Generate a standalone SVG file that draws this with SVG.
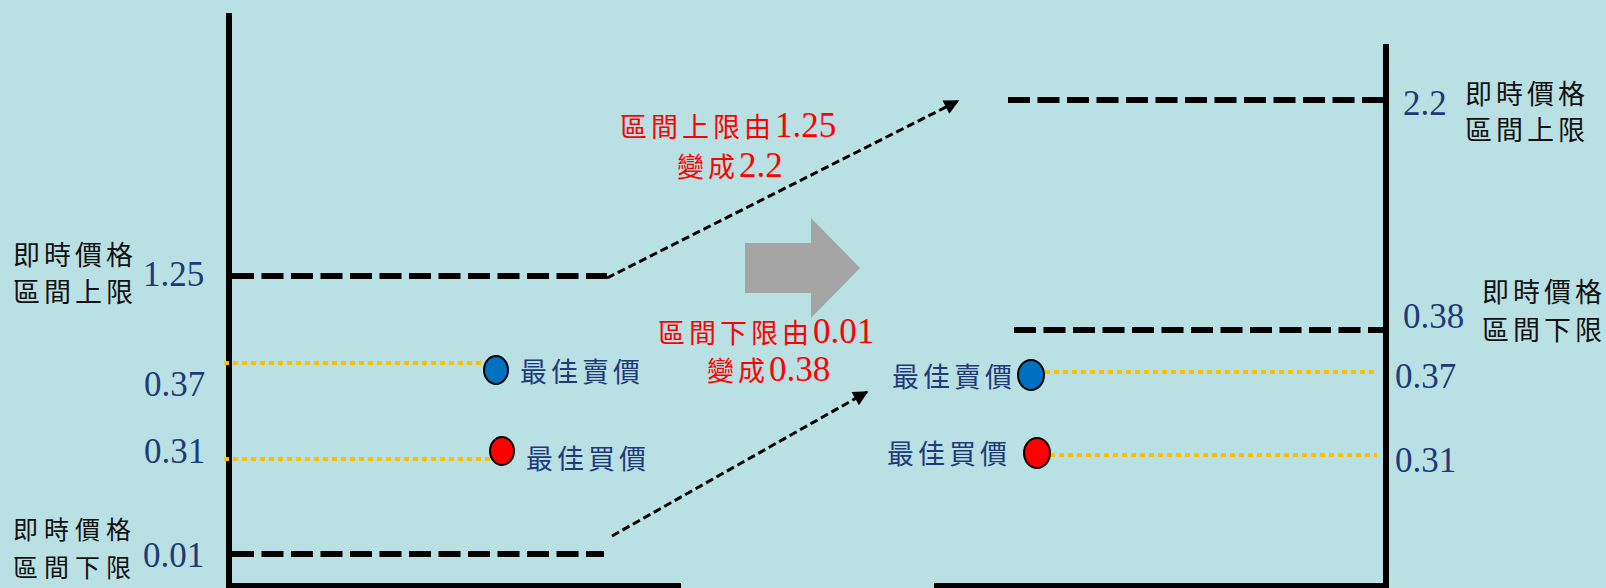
<svg xmlns="http://www.w3.org/2000/svg" width="1606" height="588" viewBox="0 0 1606 588">
<defs>
<style>
.cjk{font-family:"Noto Sans CJK TC","Noto Sans CJK SC",sans-serif;font-size:27px;letter-spacing:4px;fill:#111}
.sm{font-size:25px;letter-spacing:6px}
.num{font-family:"Liberation Serif",serif;font-size:35px;fill:#1F3A78}
.lbl{font-family:"Noto Sans CJK TC","Noto Sans CJK SC",sans-serif;font-size:27px;letter-spacing:4px;fill:#1F3A78}
.red{fill:#FF0000}
.redc{font-family:"Noto Sans CJK TC","Noto Sans CJK SC",sans-serif;font-size:27px;letter-spacing:4px}
.redn{font-family:"Liberation Serif",serif;font-size:35px}
.axis{stroke:#000;stroke-width:6;fill:none}
.dash{stroke:#000;stroke-width:6;stroke-dasharray:22 7.5;fill:none}
.dot{stroke:#FFC000;stroke-width:4;stroke-dasharray:5 4;fill:none}
.arr{stroke:#000;stroke-width:3;stroke-dasharray:8 4;fill:none;marker-end:url(#tri)}
.bub{stroke:#000;stroke-width:2}
</style>
<marker id="tri" viewBox="0 0 10 10" refX="9" refY="5" markerWidth="18" markerHeight="15" markerUnits="userSpaceOnUse" orient="auto">
<path d="M0,0 L10,5 L0,10 Z" fill="#000"/>
</marker>
</defs>
<rect width="1606" height="588" fill="#B9E0E3"/>

<g id="axes">
<line class="axis" x1="229" y1="13" x2="229" y2="588"/>
<line class="axis" x1="226" y1="586" x2="681" y2="586"/>
<line class="axis" x1="1386" y1="44" x2="1386" y2="588"/>
<line class="axis" x1="934" y1="586" x2="1389" y2="586"/>
</g>

<g id="levels">
<line class="dash" x1="232" y1="276" x2="607" y2="276"/>
<line class="dash" x1="232" y1="554" x2="604" y2="554"/>
<line class="dash" x1="1008" y1="100" x2="1383" y2="100"/>
<line class="dash" x1="1014" y1="330" x2="1383" y2="330"/>
<line class="dot" x1="224" y1="363" x2="482" y2="363"/>
<line class="dot" x1="224" y1="459" x2="490" y2="459"/>
<line class="dot" x1="1045" y1="372" x2="1377" y2="372"/>
<line class="dot" x1="1050" y1="455" x2="1377" y2="455"/>
</g>

<g id="connectors">
<line class="arr" x1="607" y1="278" x2="958" y2="101"/>
<line class="arr" x1="612" y1="536" x2="867" y2="392"/>
</g>

<g id="big-arrow">
<polygon points="745,243 811,243 811,218 860,268 811,318 811,293 745,293" fill="#A5A5A5"/>
</g>

<g id="left-labels">
<text class="cjk" x="13" y="265">即時價格</text>
<text class="cjk" x="13" y="302">區間上限</text>
<text class="num" x="143" y="286">1.25</text>
<text class="cjk sm" x="13" y="539">即時價格</text>
<text class="cjk sm" x="13" y="577">區間下限</text>
<text class="num" x="143" y="567">0.01</text>
<text class="num" x="144" y="396">0.37</text>
<text class="num" x="144" y="463">0.31</text>
</g>

<g id="left-bid-ask">
<ellipse class="bub" cx="496" cy="370" rx="12" ry="14" fill="#0070C0"/>
<text class="lbl" x="520" y="382">最佳賣價</text>
<ellipse class="bub" cx="502" cy="451" rx="12" ry="14" fill="#FF0000"/>
<text class="lbl" x="526" y="469">最佳買價</text>
</g>

<g id="upper-change">
<text class="red" x="620" y="137"><tspan class="redc">區間上限由</tspan><tspan class="redn">1.25</tspan></text>
<text class="red" x="677" y="177"><tspan class="redc">變成</tspan><tspan class="redn">2.2</tspan></text>
</g>

<g id="lower-change">
<text class="red" x="658" y="343"><tspan class="redc">區間下限由</tspan><tspan class="redn">0.01</tspan></text>
<text class="red" x="707" y="381"><tspan class="redc">變成</tspan><tspan class="redn">0.38</tspan></text>
</g>

<g id="right-bid-ask">
<ellipse class="bub" cx="1031" cy="375" rx="13" ry="15" fill="#0070C0"/>
<text class="lbl" x="892" y="387">最佳賣價</text>
<ellipse class="bub" cx="1037" cy="453" rx="13" ry="15" fill="#FF0000"/>
<text class="lbl" x="887" y="464">最佳買價</text>
</g>

<g id="right-labels">
<text class="num" x="1403" y="115">2.2</text>
<text class="cjk" x="1465" y="104">即時價格</text>
<text class="cjk" x="1465" y="140">區間上限</text>
<text class="num" x="1403" y="328">0.38</text>
<text class="cjk" x="1482" y="302">即時價格</text>
<text class="cjk" x="1482" y="340">區間下限</text>
<text class="num" x="1395" y="388">0.37</text>
<text class="num" x="1395" y="472">0.31</text>
</g>
</svg>
